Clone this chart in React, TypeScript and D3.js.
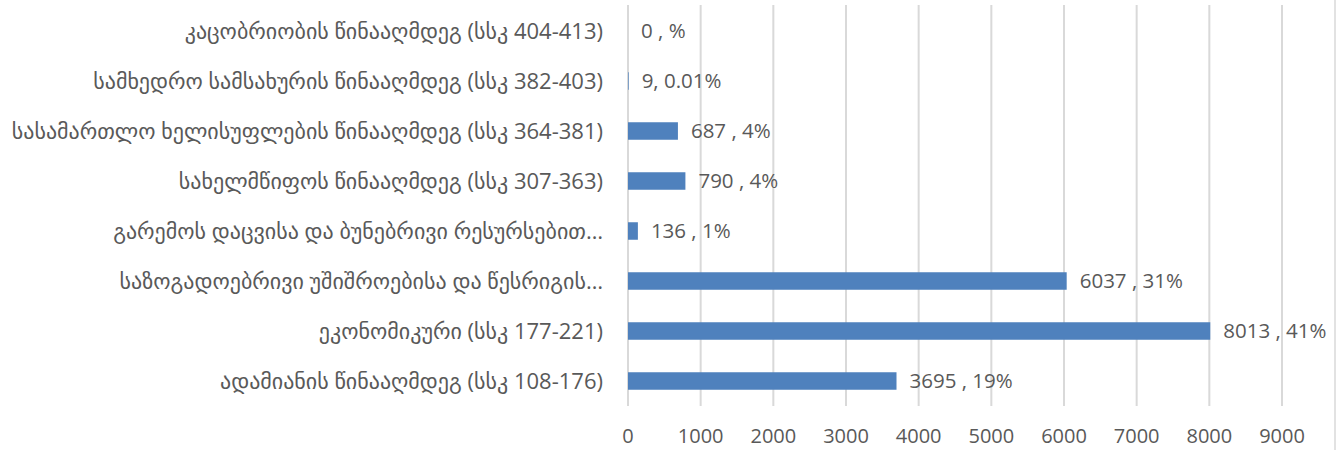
import React from "react";
import * as d3 from "d3";

const categories = [
  "კაცობრიობის წინააღმდეგ (სსკ 404-413)",
  "სამხედრო სამსახურის წინააღმდეგ (სსკ 382-403)",
  "სასამართლო ხელისუფლების წინააღმდეგ (სსკ 364-381)",
  "სახელმწიფოს წინააღმდეგ (სსკ 307-363)",
  "გარემოს დაცვისა და ბუნებრივი რესურსებით…",
  "საზოგადოებრივი უშიშროებისა და წესრიგის…",
  "ეკონომიკური (სსკ 177-221)",
  "ადამიანის წინააღმდეგ (სსკ 108-176)",
];
const values = [0, 9, 687, 790, 136, 6037, 8013, 3695];
const valueLabels = [
  "0 , %",
  "9, 0.01%",
  "687 , 4%",
  "790 , 4%",
  "136 , 1%",
  "6037 , 31%",
  "8013 , 41%",
  "3695 , 19%",
];
const xTicks = [0, 1000, 2000, 3000, 4000, 5000, 6000, 7000, 8000, 9000];

const W = 1343;
const H = 450;
const left = 628;
const right = 1282;
const top = 6;
const bottom = 406;
const FONT = "'Open Sans', 'DejaVu Sans', sans-serif";
const TEXT = "#595959";

export default function App() {
  const x = d3.scaleLinear().domain([0, 9000]).range([left, right]);
  const y = d3
    .scaleBand<string>()
    .domain(categories)
    .range([top, bottom])
    .paddingInner(0.65)
    .paddingOuter(0.325);
  const bh = y.bandwidth();
  return (
    <svg
      width={W}
      height={H}
      style={{ position: "absolute", left: 0, top: 0, background: "#fff" }}
      fontFamily={FONT}
    >
      <rect x={0} y={0} width={W} height={H} fill="#fff" />
      <line x1={1335} x2={1335} y1={0} y2={H} stroke="#d9d9d9" strokeWidth={1.5} />
      {xTicks.map((t) => (
        <line
          key={"g" + t}
          x1={x(t)}
          x2={x(t)}
          y1={top - 1}
          y2={bottom}
          stroke="#d9d9d9"
          strokeWidth={2}
        />
      ))}
      {xTicks.map((t) => (
        <text
          key={"t" + t}
          x={x(t)}
          y={443}
          textAnchor="middle"
          fontSize={20}
          fill={TEXT}
        >
          {t}
        </text>
      ))}
      {categories.map((c, i) => {
        const cy = (y(c) as number) + bh / 2;
        return (
          <g key={c}>
            {values[i] > 0 && (
              <rect
                x={x(0)}
                y={y(c) as number}
                width={x(values[i]) - x(0)}
                height={bh}
                fill="#4f81bd"
              />
            )}
            <text
              x={603}
              y={cy}
              dy="0.35em"
              textAnchor="end"
              fontSize={22}
              fill={TEXT}
            >
              {c}
            </text>
            <text
              x={x(values[i]) + 13}
              y={cy}
              dy="0.35em"
              textAnchor="start"
              fontSize={20.5}
              fill={TEXT}
            >
              {valueLabels[i]}
            </text>
          </g>
        );
      })}
    </svg>
  );
}
